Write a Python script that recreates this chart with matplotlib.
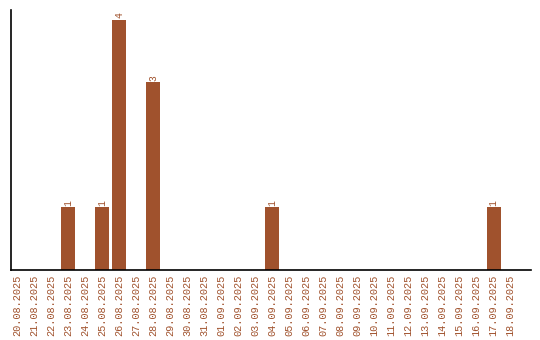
import datetime
import matplotlib
matplotlib.use("Agg")
import matplotlib.pyplot as plt

COLOR = "#a0522d"

start = datetime.date(2025, 8, 20)
dates = [(start + datetime.timedelta(days=i)).strftime("%d.%m.%Y") for i in range(30)]
counts = {"23.08.2025": 1, "25.08.2025": 1, "26.08.2025": 4,
          "28.08.2025": 3, "04.09.2025": 1, "17.09.2025": 1}
values = [counts.get(d, 0) for d in dates]

fig = plt.figure(figsize=(5.4, 3.4), dpi=100)
ax = fig.add_axes([0.0204, 0.206, 0.963, 0.765])

x = list(range(len(dates)))
bars = ax.bar(x, values, width=0.82, color=COLOR)
for xi, v in zip(x, values):
    if v:
        ax.text(xi, v + 0.03, str(v), rotation=90, ha="center", va="bottom",
                color=COLOR, family="Liberation Mono", fontsize=7)

ax.set_xticks(x)
ax.set_xticklabels(dates, rotation=90, family="Liberation Mono",
                   fontsize=7.4, color=COLOR)
ax.tick_params(axis="x", length=0, pad=3.5)
ax.set_yticks([])
ax.set_xlim(-0.35, 30.2)
ax.set_ylim(0, 4.16)
for s in ("top", "right"):
    ax.spines[s].set_visible(False)
ax.spines["left"].set_linewidth(1.2)
ax.spines["bottom"].set_linewidth(1.2)

fig.savefig("out.png", dpi=100)
